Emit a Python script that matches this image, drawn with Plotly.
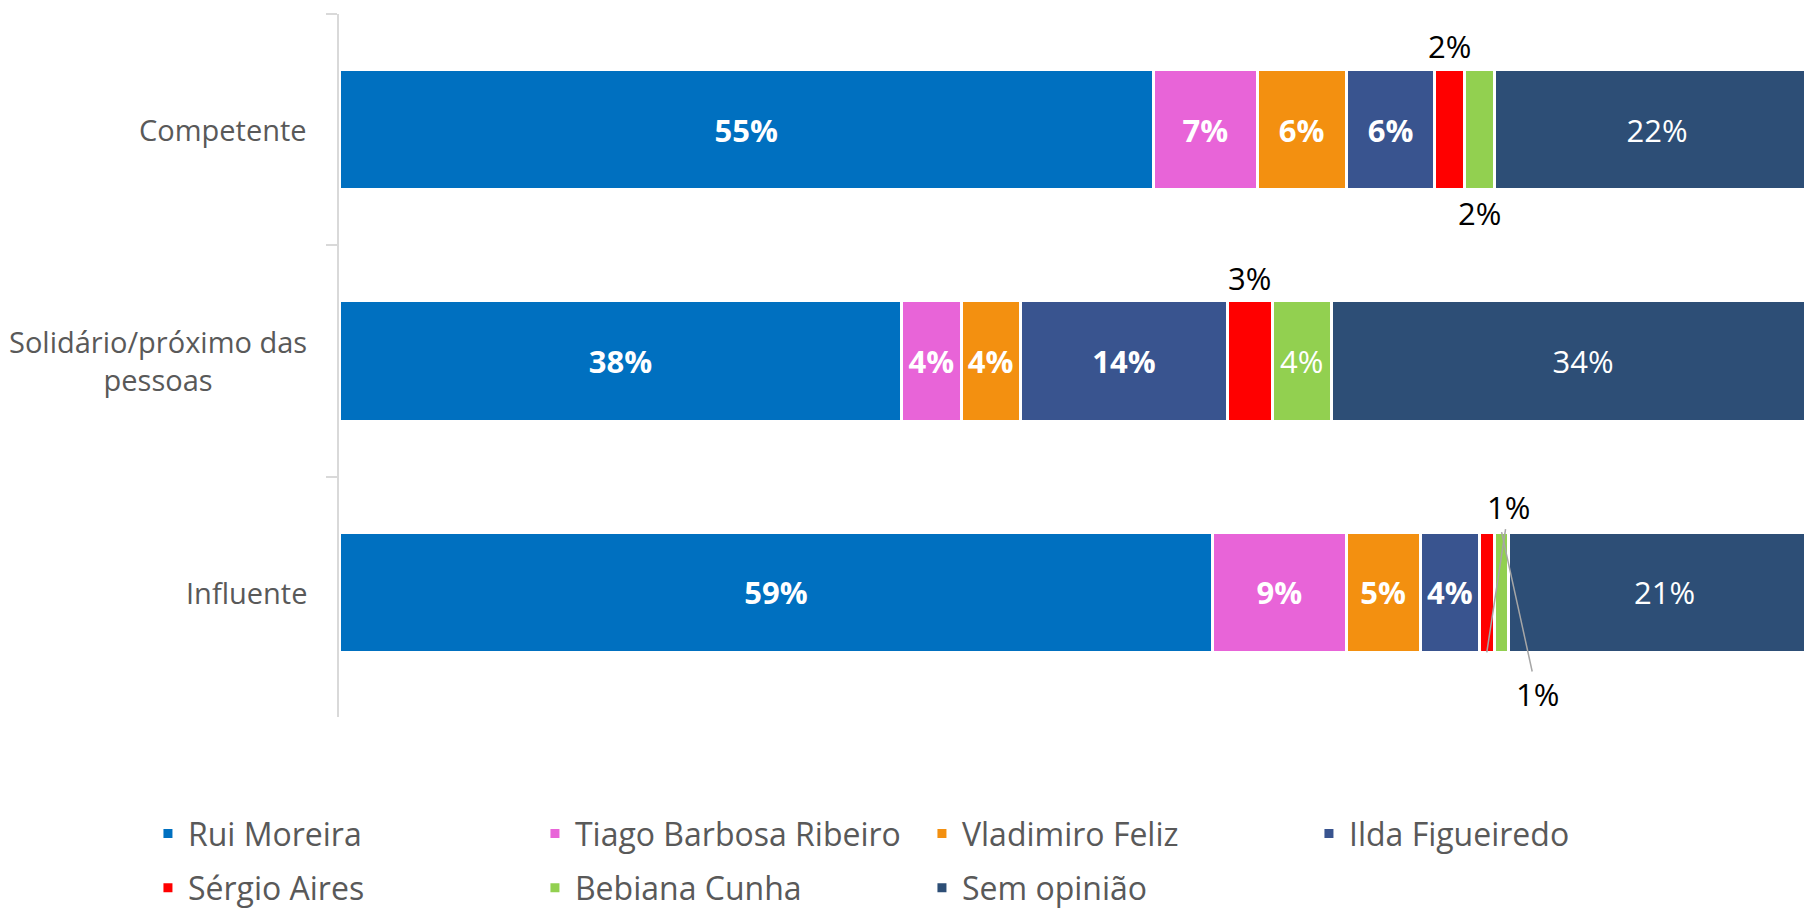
import plotly.graph_objects as go

categories = ["Competente", "Solidário/próximo das<br>pessoas", "Influente"]
series_names = ["Rui Moreira", "Tiago Barbosa Ribeiro", "Vladimiro Feliz", "Ilda Figueiredo",
                "Sérgio Aires", "Bebiana Cunha", "Sem opinião"]
rui_moreira = [55, 38, 59]
tiago_barbosa_ribeiro = [7, 4, 9]
vladimiro_feliz = [6, 4, 5]
ilda_figueiredo = [6, 14, 4]
sergio_aires = [2, 3, 1]
bebiana_cunha = [2, 4, 1]
sem_opiniao = [22, 34, 21]
colors = ["#0070C0", "#E864D8", "#F39010", "#39548F", "#FF0000", "#92D050", "#2D4E76"]
bold_labels = [True, True, True, True, False, False, False]

# labels drawn outside the bar: (series index, category index, side, leader line)
outside_labels = [(4, 0, "above", False), (5, 0, "below", False),
                  (4, 1, "above", False),
                  (4, 2, "above", True), (5, 2, "below", True)]

values = [rui_moreira, tiago_barbosa_ribeiro, vladimiro_feliz, ilda_figueiredo,
          sergio_aires, bebiana_cunha, sem_opiniao]

FONT = "Open Sans"
GRAY = "#595959"
BAR_W = 0.52
LABEL_SIZE = 31

outside_set = {(s, c) for s, c, _, _ in outside_labels}

fig = go.Figure()
for si, (name, vals) in enumerate(zip(series_names, values)):
    texts = []
    for ci, v in enumerate(vals):
        if (si, ci) in outside_set:
            texts.append("")
        elif bold_labels[si]:
            texts.append(f"<b>{v}%</b>")
        else:
            texts.append(f"{v}%")
    fig.add_trace(go.Bar(
        name=name, y=categories, x=vals, orientation="h",
        marker=dict(color=colors[si], line=dict(color="white", width=3)),
        width=BAR_W, text=texts, textposition="inside", insidetextanchor="middle",
        textangle=0, constraintext="none",
        insidetextfont=dict(family=FONT, size=LABEL_SIZE, color="white"),
        legend="legend" if si < 4 else "legend2",
        hoverinfo="skip",
    ))

annotations = []
# category labels (centered multi-line)
for ci, cat in enumerate(categories):
    annotations.append(dict(
        xref="paper", yref="y", x=0, y=ci, xshift=-30, xanchor="right", yanchor="middle",
        text=cat, align="center", showarrow=False,
        font=dict(family=FONT, size=29, color=GRAY)))

for si, ci, side, leader in outside_labels:
    start = sum(values[k][ci] for k in range(si))
    center = start + values[si][ci] / 2
    v = values[si][ci]
    if not leader:
        y = ci - BAR_W / 2 - 0.1 if side == "above" else ci + BAR_W / 2 + 0.1
        annotations.append(dict(
            xref="x", yref="y", x=center, y=y, text=f"{v}%", showarrow=False,
            xanchor="center", yanchor="middle",
            font=dict(family=FONT, size=LABEL_SIZE, color="black")))
    else:
        if side == "above":
            tip_y = ci + BAR_W / 2
            ax, ay = center + 1.5, ci - BAR_W / 2 - 0.11
        else:
            tip_y = ci - BAR_W / 2
            ax, ay = center + 2.4, ci + BAR_W / 2 + 0.18
        annotations.append(dict(
            xref="x", yref="y", x=center, y=tip_y, axref="x", ayref="y", ax=ax, ay=ay,
            text=f"{v}%", showarrow=True, arrowhead=0, arrowwidth=1.5,
            arrowcolor="#A6A6A6", standoff=0,
            font=dict(family=FONT, size=LABEL_SIZE, color="black")))

legend_common = dict(orientation="h", xref="paper", x=-0.129, xanchor="left",
                     yanchor="middle", entrywidth=342, entrywidthmode="pixels",
                     traceorder="normal",
                     font=dict(family=FONT, size=32, color=GRAY),
                     bgcolor="rgba(0,0,0,0)")

fig.update_layout(
    width=1812, height=904,
    barmode="stack",
    margin=dict(l=331, r=0, t=6, b=195, autoexpand=False),
    paper_bgcolor="white", plot_bgcolor="white",
    font=dict(family=FONT, color=GRAY),
    xaxis=dict(range=[0, 100], visible=False, fixedrange=True),
    yaxis=dict(type="category", categoryorder="array", categoryarray=categories,
               autorange="reversed", showticklabels=False, showgrid=False,
               showline=True, linecolor="#D9D9D9", linewidth=1.5,
               ticks="outside", tickson="boundaries", ticklen=11,
               tickcolor="#D9D9D9", tickwidth=1.5, zeroline=False),
    uniformtext=dict(minsize=LABEL_SIZE, mode="show"),
    annotations=annotations,
    legend=dict(**legend_common, y=-0.166),
    legend2=dict(**legend_common, y=-0.243),
    showlegend=True,
)

fig.write_html("out.html")
